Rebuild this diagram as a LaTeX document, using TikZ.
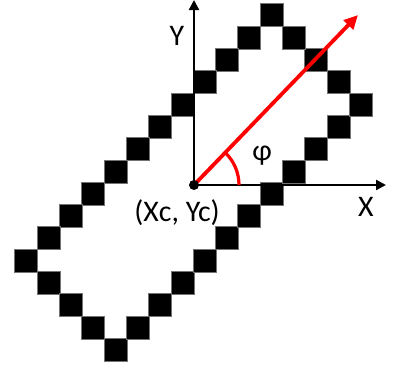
\documentclass[tikz,border=0pt]{standalone}
\usepackage{fontspec}
\setmainfont{Carlito}
\usetikzlibrary{arrows.meta}
\begin{document}
\begin{tikzpicture}[x=1bp,y=-1bp,
  cell/.style={fill=black,draw=black!55,line width=0.4bp,minimum size=23bp,inner sep=0,outer sep=0},
  axis/.style={line width=2.2bp,-{Triangle[length=10bp,width=10bp]}},
  dir/.style={red,line width=3.8bp,-{Triangle[length=14bp,width=13bp]}},
  lbl/.style={font=\fontsize{30}{30}\selectfont,inner sep=0}]
\useasboundingbox (0,0) rectangle (393,369);
\foreach \i/\j in {11/0,10/1,9/2,8/3,7/4,6/5,5/6,4/7,3/8,2/9,1/10,0/11,1/12,2/13,3/14,4/15,5/14,6/13,7/12,8/11,9/10,10/9,11/8,12/7,13/6,14/5,15/4,14/3,13/2,12/1}
  \node[cell] (s\i-\j) at ({15+22.3*\i+11.15},{4+22.3*\j+11.15}) {};
\coordinate (O) at (194,185);
\coordinate (ytop) at (194,0);
\coordinate (xend) at (386,185);
\coordinate (rend) at (358,15);
\draw[axis] (O) -- (ytop);
\draw[axis] (O) -- (xend);
\draw[dir] (O) -- (rend);
\draw[red,line width=3.2bp] ([shift={(45,0)}]O) arc[start angle=0,end angle=46,radius=45bp];
\fill (O) circle[radius=5bp];
\node[lbl] (ly) at (177,36) {Y};
\node[lbl] (lx) at (366,207) {X};
\node[lbl] (lphi) at (262,156) {φ};
\node[lbl] (lc) at (177,213) {(Xc, Yc)};
\end{tikzpicture}
\end{document}
